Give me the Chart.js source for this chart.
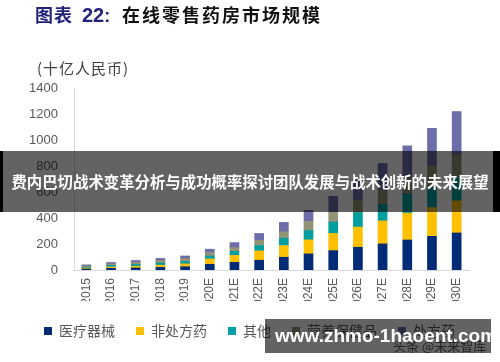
<!DOCTYPE html>
<html><head><meta charset="utf-8">
<script src="https://cdn.jsdelivr.net/npm/chart.js@4/dist/chart.umd.min.js"></script>
<style>
html,body{margin:0;padding:0;background:#fff;}
#wrap{position:relative;width:500px;height:362px;overflow:hidden;background:#fff;}
canvas{position:absolute;left:0;top:0;}
.t{position:absolute;white-space:nowrap;line-height:1;}
</style></head><body>
<div id="wrap">
<canvas id="c" width="500" height="362"></canvas>
<div class="t" style="left:35px;top:5px;font-weight:bold;font-size:18px;font-family:'Noto Sans CJK SC';color:#22227a;letter-spacing:1px;">图表</div>
<div class="t" style="left:82px;top:5px;font-weight:bold;font-size:20px;font-family:'Liberation Sans';color:#22227a;">22<span style="font-size:18px;">:</span></div>
<div class="t" style="left:122px;top:5px;font-weight:bold;font-size:18px;font-family:'Noto Sans CJK SC';color:#111;letter-spacing:2px;">在线零售药房市场规模</div>
<div class="t" style="left:37px;top:60px;font-size:15px;letter-spacing:1px;color:#404040;font-family:'Noto Sans CJK SC';">(十亿人民币)</div>
<div class="t" style="left:393px;top:339px;font-size:13px;color:#595959;font-family:'Noto Sans CJK SC';">头条 @未来智库</div>
<div style="position:absolute;left:0;top:151px;width:500px;height:61px;background:rgba(0,0,0,0.61);"></div>
<div style="position:absolute;left:0;top:151px;width:3px;height:61px;background:#000;"></div>
<div style="position:absolute;left:493px;top:151px;width:7px;height:61px;background:#000;"></div>
<div class="t" style="left:0;top:174px;width:500px;text-align:center;font-size:15.4px;font-weight:bold;color:#fff;font-family:'Noto Sans CJK SC';">费内巴切战术变革分析与成功概率探讨团队发展与战术创新的未来展望</div>
<div style="position:absolute;left:265px;top:319px;width:226px;height:34px;background:rgba(0,0,0,0.61);"></div>
<div class="t" style="left:275px;top:326px;width:206px;text-align:center;font-size:19px;font-weight:bold;color:#fff;font-family:'Liberation Sans';">www.zhmo-1haoent.com</div>
</div>
<script>
const categories = ['2015','2016','2017','2018','2019','2020E','2021E','2022E','2023E','2024E','2025E','2026E','2027E','2028E','2029E','2030E'];
const medicalDevices = [8, 13, 16, 20, 25, 44, 59, 75, 98, 124, 149, 175, 201, 231, 259, 285];
const otcDrugs       = [7, 10, 13, 17, 22, 41, 54, 72, 90, 108, 132, 155, 177, 206, 221, 247];
const others         = [8, 12, 15, 17, 19, 23, 31, 41, 57, 72, 88, 112, 127, 148, 155, 178];
const nutrition      = [9, 12, 15, 18, 21, 26, 28, 39, 49, 70, 77, 92, 106, 125, 164, 174];
const prescription   = [8, 11, 14, 17, 21, 26, 39, 54, 72, 85, 121, 157, 209, 245, 291, 335];
const seriesNames = ['医疗器械','非处方药','其他','营养保健品','处方药'];
const yTicks = [0, 200, 400, 600, 800, 1000, 1200, 1400];

const colors = ['#002c77','#ffc000','#009e9e','#939375','#6d6daa'];
const seriesData = [medicalDevices, otcDrugs, others, nutrition, prescription];

const legendPlugin = {
  id: 'legendFix',
  beforeInit(chart) {
    const orig = chart.legend.fit;
    chart.legend.fit = function() { orig.call(this); this.height = 61; };
  },
  afterLayout(chart) {
    const dx = 15;
    chart.legend.left += dx; chart.legend.right += dx;
    chart.legend.top += 2; chart.legend.bottom += 2;
  }
};

new Chart(document.getElementById('c'), {
  type: 'bar',
  data: {
    labels: categories,
    datasets: seriesNames.map((n, i) => ({
      label: n,
      data: seriesData[i],
      backgroundColor: colors[i],
      borderWidth: 0,
      barThickness: 9
    }))
  },
  options: {
    responsive: false,
    animation: false,
    layout: { padding: { left: 0, right: 31, top: 88, bottom: 0 } },
    plugins: {
      legend: {
        position: 'bottom',
        labels: {
          boxWidth: 8, boxHeight: 8, padding: 21, color: '#595959',
          font: { family: "'Noto Sans CJK SC'", size: 14 }
        }
      },
      tooltip: { enabled: false }
    },
    scales: {
      x: {
        stacked: true,
        grid: { display: false, drawTicks: false },
        border: { color: '#d9d9d9', width: 1 },
        ticks: { color: '#595959', font: { family: "'Liberation Sans'", size: 12 }, minRotation: 90, maxRotation: 90, padding: 8 },
        afterFit(s) { s.height = 31; }
      },
      y: {
        stacked: true, min: 0, max: 1400,
        afterBuildTicks(s) { s.ticks = yTicks.map(v => ({ value: v })); },
        grid: { display: false, drawTicks: false },
        border: { color: '#d9d9d9', width: 1 },
        ticks: { color: '#595959', font: { family: "'Liberation Sans'", size: 13 }, padding: 16, callback: v => String(v) },
        afterFit(s) { s.width = 74; }
      }
    }
  },
  plugins: [legendPlugin]
});
</script>
</body></html>
